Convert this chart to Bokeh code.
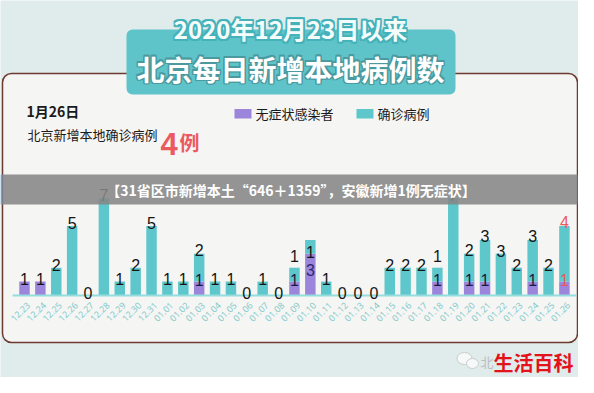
import math
from bokeh.plotting import figure
from bokeh.models import Range1d
from bokeh.core.properties import value
from bokeh.embed import file_html
from bokeh.resources import INLINE

# ---------------- data ----------------
dates = ["12.23", "12.24", "12.25", "12.26", "12.27", "12.28", "12.29", "12.30", "12.31",
         "01.01", "01.02", "01.03", "01.04", "01.05", "01.06", "01.07", "01.08", "01.09",
         "01.10", "01.11", "01.12", "01.13", "01.14", "01.15", "01.16", "01.17", "01.18",
         "01.19", "01.20", "01.21", "01.22", "01.23", "01.24", "01.25", "01.26"]
confirmed = [0, 0, 2, 5, 0, 7, 1, 2, 5, 1, 1, 2, 1, 1, 0, 1, 0, 1, 1, 1, 0, 0, 0, 2, 2, 2, 1, 7,
             2, 3, 3, 2, 3, 2, 4]
asymptomatic = [1, 1, 0, 0, 0, 0, 0, 0, 0, 0, 0, 1, 0, 0, 0, 0, 0, 1, 3, 0, 0, 0, 0, 0, 0, 0, 1, 0,
                1, 1, 0, 0, 1, 0, 1]

title_line1 = "2020年12月23日以来"
title_line2 = "北京每日新增本地病例数"
headline_date = "1月26日"
headline_text = "北京新增本地确诊病例"
headline_count = "4"
headline_unit = "例"
legend_labels = ["无症状感染者", "确诊病例"]
banner_text = "【31省区市新增本土“646＋1359”，安徽新增1例无症状】"
watermark_small = "北"
watermark = "生活百科"

# ---------------- styles ----------------
BG = "#e0ebec"
PANEL = "#f5f5f4"
PANEL_LINE = "#6e3b2f"
TEAL = "#5ec7cb"
PURPLE = "#9c86dc"
TITLE_BOX = "#5fc4c9"
RED = "#ea5a5e"
CJK = value("Noto Sans CJK SC")
NUM = value("Liberation Sans")

W, H = 578, 377
PAGE_L, PAGE_T = 8, 8
x0_px, dx_px = 32.0, 15.88     # first bar centre / bar spacing (page px)
base_px, dy_px = 303.0, 13.9   # baseline / px per case

x_start = (PAGE_L - x0_px) / dx_px
x_end = (PAGE_L + W - x0_px) / dx_px
y_end = (base_px - PAGE_T) / dy_px
y_start = -(PAGE_T + H - base_px) / dy_px

p = figure(width=W, height=H, x_range=Range1d(x_start, x_end), y_range=Range1d(y_start, y_end),
           output_backend="svg", toolbar_location=None, min_border=0,
           x_axis_location=None, y_axis_location=None, outline_line_color=None,
           background_fill_color=BG, border_fill_color=BG)
for g in p.grid:
    g.visible = False
p.extra_x_ranges = {"px": Range1d(PAGE_L, PAGE_L + W)}
p.extra_y_ranges = {"py": Range1d(PAGE_T + H, PAGE_T)}
PX = dict(x_range_name="px", y_range_name="py")

# panel
p.quad(left=[10], right=[585], top=[81], bottom=[350], fill_color=PANEL,
       line_color=PANEL_LINE, line_width=1.5, border_radius=9, **PX)

# title box
p.quad(left=[134], right=[463], top=[37], bottom=[102], fill_color=TITLE_BOX,
       line_color=None, border_radius=6, **PX)

def outlined(x, y, txt, size, fill, outline, r, style="normal"):
    offs = [(-r, 0), (r, 0), (0, -r), (0, r), (-r, -r), (r, r), (-r, r), (r, -r)]
    for ox, oy in offs:
        p.text(x=[x], y=[y], text=[txt], x_offset=ox, y_offset=oy, text_align="center",
               text_baseline="middle", text_font=CJK, text_font_size=size,
               text_font_style=style, text_color=outline, **PX)
    p.text(x=[x], y=[y], text=[txt], text_align="center", text_baseline="middle",
           text_font=CJK, text_font_size=size, text_font_style=style, text_color=fill, **PX)

outlined(298, 36, title_line1, "24px", "#f4fdfc", "#45b2b9", 1.6, "bold")
outlined(298, 76, title_line2, "28px", "#ffffff", "#4a9aa0", 1.2, "bold")

# headline
p.text(x=[34], y=[118], text=[headline_date], text_baseline="middle", text_font=CJK,
       text_font_size="14px", text_font_style="bold", text_color="#1a1a1a", **PX)
p.text(x=[35], y=[142], text=[headline_text], text_baseline="middle", text_font=CJK,
       text_font_size="13px", text_color="#1a1a1a", **PX)
p.text(x=[168], y=[151], text=[headline_count], text_baseline="alphabetic", text_font=NUM,
       text_font_size="31px", text_font_style="bold", text_color=RED, **PX)
p.text(x=[187], y=[150], text=[headline_unit], text_baseline="alphabetic", text_font=CJK,
       text_font_size="20px", text_font_style="bold", text_color=RED, **PX)

# legend
p.quad(left=[242, 364], right=[259, 381], top=[116.5, 116.5], bottom=[126, 126],
       fill_color=[PURPLE, TEAL], line_color=None, **PX)
p.text(x=[263, 385], y=[121, 121], text=legend_labels, text_baseline="middle", text_font=CJK,
       text_font_size="13px", text_color="#1a1a1a", **PX)

# bars
n = len(dates)
idx = list(range(n))
total = [c + a for c, a in zip(confirmed, asymptomatic)]
p.vbar(x=idx, bottom=0, top=asymptomatic, width=0.66, fill_color=PURPLE, line_color=None)
p.vbar(x=idx, bottom=asymptomatic, top=total, width=0.66, fill_color=TEAL, line_color=None)

# axis base line
p.segment(x0=[-0.75], y0=[0], x1=[n - 1 + 0.75], y1=[0], line_color="#95dcdc", line_width=2)

# date labels
p.text(x=idx, y=[0] * n, text=dates, angle=math.pi / 4, text_align="right",
       text_baseline="middle", x_offset=4, y_offset=8, text_font=value("Noto Sans"),
       text_font_size="9px", text_color="#86cbcb")

# value labels
lx, ly, lt, loff, lc = [], [], [], [], []
last = n - 1
for i, (c, a) in enumerate(zip(confirmed, asymptomatic)):
    col = RED if i == last else "#151515"
    inner_col = RED if i == last else "#1c1a3c"
    if c > 0 and a > c:
        # labels inside the bar
        lx += [i, i]; ly += [a, a]; lt += [str(c), str(a)]; loff += [-2, 16]
        lc += [col, "#2e2670"]
    elif c > 0 and a > 0:
        lx += [i, i]; ly += [c + a, a]; lt += [str(c), str(a)]
        loff += [-4 if c > 1 else -12, -2]; lc += [col, inner_col]
    elif c > 0:
        lx.append(i); ly.append(c); lt.append(str(c)); loff.append(-3); lc.append(col)
    elif a > 0:
        lx.append(i); ly.append(a); lt.append(str(a)); loff.append(-3); lc.append(col)
    else:
        lx.append(i); ly.append(0); lt.append("0"); loff.append(-3); lc.append(col)
p.text(x=lx, y=ly, text=lt, y_offset=loff, text_align="center", text_baseline="alphabetic",
       text_font=NUM, text_font_size="16px", text_color=lc)

# banner
p.quad(left=[10], right=[585], top=[182], bottom=[212], fill_color="#868686",
       fill_alpha=0.88, line_color=None, **PX)
p.quad(left=[8], right=[10], top=[182], bottom=[212], fill_color="#7aa0c9",
       line_color=None, **PX)
p.text(x=[302], y=[197], text=[banner_text], text_align="center", text_baseline="middle",
       text_font=CJK, text_font_size="14px", text_font_style="bold", text_color="#ffffff", **PX)

# watermark
p.ellipse(x=[472, 480], y=[366, 371], width=[15, 12], height=[12, 10],
          fill_color="#f7f8f8", line_color="#c9cdcd", line_width=1, **PX)
p.text(x=[488], y=[369], text=[watermark_small], text_baseline="middle", text_font=CJK,
       text_font_size="13px", text_color="#b9bebe", **PX)
p.text(x=[581], y=[370], text=[watermark], text_align="right", text_baseline="middle",
       text_font=CJK, text_font_size="20px", text_font_style="bold", text_color="#e3121b", **PX)

open("out.html", "w").write(file_html(p, INLINE))
